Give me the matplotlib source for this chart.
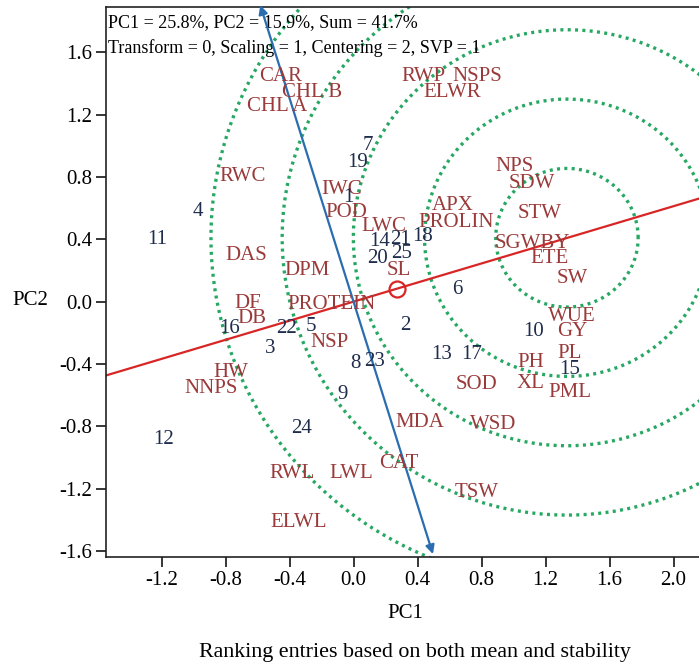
import matplotlib
matplotlib.use("Agg")
import matplotlib.pyplot as plt
import numpy as np

plt.rcParams['font.family'] = ['Liberation Serif', 'DejaVu Serif']
plt.rcParams['axes.unicode_minus'] = False

# ---- data ----
trait_names = ["CAR", "CHL B", "CHL A", "RWC", "RWP", "NSPS", "ELWR", "NPS", "SDW", "STW",
               "APX", "PROLIN", "SGWBY", "ETE", "SW", "WUE", "GY", "PL", "PH", "XL",
               "PML", "SOD", "MDA", "WSD", "CAT", "TSW", "LWC", "SL", "IWC", "POD",
               "DAS", "DPM", "DF", "DB", "PROTEIN", "NSP", "HW", "NNPS", "RWL", "LWL", "ELWL"]
trait_x = [-0.453, -0.259, -0.478, -0.691, 0.434, 0.772, 0.616, 1.009, 1.116, 1.166,
           0.622, 0.640, 1.120, 1.228, 1.366, 1.366, 1.366, 1.353, 1.109, 1.109,
           1.353, 0.766, 0.416, 0.872, 0.284, 0.772, 0.190, 0.284, -0.072, -0.047,
           -0.672, -0.290, -0.660, -0.634, -0.140, -0.153, -0.766, -0.890, -0.384, -0.016, -0.340]
trait_y = [1.448, 1.345, 1.250, 0.800, 1.448, 1.448, 1.340, 0.865, 0.760, 0.568,
           0.614, 0.510, 0.376, 0.280, 0.146, -0.098, -0.194, -0.330, -0.393, -0.528,
           -0.586, -0.535, -0.777, -0.790, -1.042, -1.227, 0.480, 0.203, 0.717, 0.569,
           0.293, 0.203, -0.015, -0.111, -0.021, -0.265, -0.458, -0.560, -1.100, -1.106, -1.420]

geno_names = [str(i) for i in range(1, 26)]
geno_x = [-0.034, 0.322, -0.522, -0.972, -0.266, 0.647, 0.091, 0.009, -0.066, 1.128,
          -1.228, -1.190, 0.553, 0.166, 1.353, -0.772, 0.740, 0.434, 0.028, 0.153,
          0.291, -0.416, 0.134, -0.322, 0.303]
geno_y = [0.666, -0.156, -0.304, 0.576, -0.162, 0.075, 1.005, -0.400, -0.599, -0.194,
          0.400, -0.888, -0.342, 0.383, -0.438, -0.175, -0.342, 0.415, 0.890, 0.280,
          0.400, -0.175, -0.387, -0.817, 0.306]

avg_point = (0.27, 0.0827)         # average entry (small circle)
ideal_center = (1.334, 0.41)       # centre of concentric circles
circle_radii = [0.445, 0.89, 1.335, 1.78, 2.225]
perp_extent = (-1.695, 1.99)       # extent of perpendicular axis (along unit normal)

header1 = "PC1 = 25.8%, PC2 = 15.9%, Sum = 41.7%"
header2 = "Transform = 0, Scaling = 1, Centering = 2, SVP = 1"
xticks = [-1.2, -0.8, -0.4, 0.0, 0.4, 0.8, 1.2, 1.6, 2.0]
yticks = [-1.6, -1.2, -0.8, -0.4, 0.0, 0.4, 0.8, 1.2, 1.6]

# ---- figure ----
W, H = 699, 664
fig = plt.figure(figsize=(W / 100, H / 100), dpi=100)
L, R, T, B = 106, 702, 7, 557
ax = fig.add_axes([L / W, 1 - B / H, (R - L) / W, (B - T) / H])
ax.set_xlim(-1.547, 2.178)
ax.set_ylim(-1.639, 1.891)

trait_col = "#9A3A3A"
geno_col = "#1F2D4D"
green = "#27A862"
red = "#D82525"
blue = "#2A6DB0"

# concentric circles
th = np.linspace(0, 2 * np.pi, 720)
for r in circle_radii:
    ax.plot(ideal_center[0] + r * np.cos(th), ideal_center[1] + r * np.sin(th),
            color=green, lw=2.4, linestyle=(0, (0.9, 1.3)), zorder=1)

# average environment axis
ax.axline((0, 0), avg_point, color=red, lw=1.6, zorder=2)
ax.plot([avg_point[0]], [avg_point[1]], marker='o', ms=11.5, mfc='none', mec=red, mew=1.6, zorder=3)

# perpendicular axis with arrows
ax_len = np.hypot(*avg_point)
ux, uy = avg_point[0] / ax_len, avg_point[1] / ax_len
px_, py_ = -uy, ux
p0 = (perp_extent[0] * px_, perp_extent[0] * py_)
p1 = (perp_extent[1] * px_, perp_extent[1] * py_)
ax.annotate('', xy=p1, xytext=p0, annotation_clip=False,
            arrowprops=dict(arrowstyle='<|-|>', color=blue, lw=1.6, mutation_scale=13,
                            shrinkA=0, shrinkB=0), zorder=4)

for n, x, y in zip(trait_names, trait_x, trait_y):
    ax.text(x, y, n, color=trait_col, fontsize=15, ha='center', va='center', zorder=5)
for n, x, y in zip(geno_names, geno_x, geno_y):
    ax.text(x, y, n, color=geno_col, fontsize=15, ha='center', va='center', zorder=5)

ax.text(0.004, 0.988, header1, transform=ax.transAxes, fontsize=13, va='top', ha='left', color='black')
ax.text(0.004, 0.942, header2, transform=ax.transAxes, fontsize=13, va='top', ha='left', color='black')

ax.set_xticks(xticks)
ax.set_yticks(yticks)
ax.set_xticklabels([f"{v:.1f}" for v in xticks])
ax.set_yticklabels([f"{v:.1f}" for v in yticks])
ax.tick_params(direction='out', length=7, width=1.1, labelsize=15, colors='black', pad=3)
for s in ['left', 'bottom', 'top']:
    ax.spines[s].set_linewidth(1.2)
    ax.spines[s].set_color('#222222')
ax.spines['right'].set_visible(False)

fig.text(30 / W, 1 - 300 / H, "PC2", fontsize=15, ha='center', va='center')
fig.text(405 / W, 1 - 614 / H, "PC1", fontsize=15, ha='center', va='center')
fig.text(415 / W, 1 - 653 / H, "Ranking entries based on both mean and stability",
         fontsize=15.8, ha='center', va='center')

fig.savefig("out.png", dpi=100)
